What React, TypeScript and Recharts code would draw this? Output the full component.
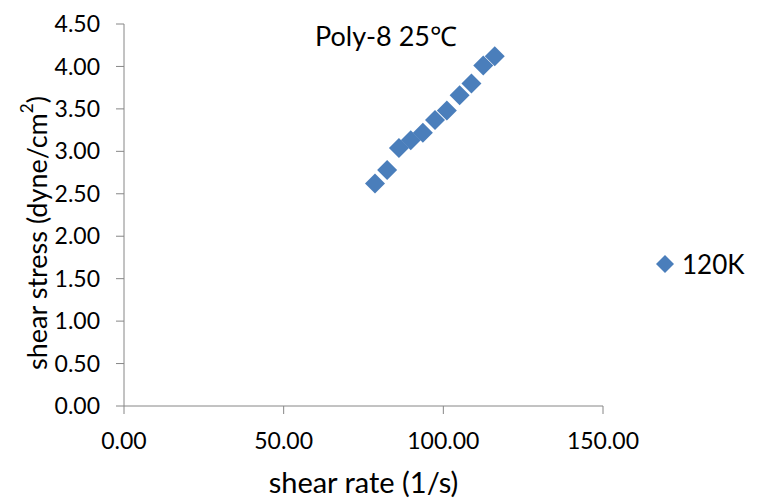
import { ScatterChart, Scatter, XAxis, YAxis, Legend, Label } from 'recharts';

const shearRate = [78.6, 82.4, 86.1, 89.8, 93.6, 97.4, 101.1, 105.1, 108.8, 112.5, 116.1];
const shearStress = [2.62, 2.78, 3.04, 3.13, 3.22, 3.37, 3.48, 3.66, 3.8, 4.01, 4.12];
const xTicks = [0, 50, 100, 150];
const yTicks = [0, 0.5, 1, 1.5, 2, 2.5, 3, 3.5, 4, 4.5];
const seriesName = '120K';
const title = 'Poly-8 25℃';

const data = shearRate.map((x, i) => ({ x, y: shearStress[i] }));

const FONT = 'Lato, "Open Sans", sans-serif';
const AXIS = '#868686';
const BLUE = '#4a7ebb';

// filled diamond, same as Excel's marker
const Diamond = (props: any) => {
  const { cx, cy } = props;
  const r = 10;
  return <polygon points={`${cx},${cy - r} ${cx + r},${cy} ${cx},${cy + r} ${cx - r},${cy}`} fill={BLUE} />;
};

const LegendBox = () => (
  <div style={{ display: 'flex', alignItems: 'center', fontFamily: FONT, fontSize: 26, color: '#000' }}>
    <svg width={20} height={20} style={{ marginRight: 7 }}>
      <polygon points="10,1 19,10 10,19 1,10" fill={BLUE} />
    </svg>
    {seriesName}
  </div>
);

const YLabel = (props: any) => {
  const vb = props.viewBox || { y: 24, height: 381 };
  const cy = vb.y + vb.height / 2 + 18;
  return (
    <text transform={`translate(36,${cy}) rotate(-90)`} textAnchor="middle" dominantBaseline="central" fill="#000" fontSize={27} fontFamily={FONT}>
      shear stress (dyne/cm<tspan fontSize={17} dy={-10}>2</tspan><tspan dy={10}>)</tspan>
    </text>
  );
};

export default function App() {
  return (
    <div style={{ position: 'absolute', left: 0, top: 0, width: 780, height: 499, background: '#fff', fontFamily: FONT }}>
      <div style={{ position: 'absolute', left: 0, width: 772, top: 19, textAlign: 'center', fontSize: 27, lineHeight: '34px', color: '#000' }}>
        {title}
      </div>
      <ScatterChart width={780} height={499} margin={{ top: 24, right: 177, left: 0, bottom: 0 }}>
        <XAxis
          type="number"
          dataKey="x"
          domain={[0, 150]}
          ticks={xTicks}
          tickFormatter={(v: number) => v.toFixed(2)}
          stroke={AXIS}
          tickSize={8}
          tickMargin={19}
          height={93}
          tick={{ fill: '#000', fontSize: 23, fontFamily: FONT }}
        >
          <Label value="shear rate (1/s)" position="insideBottom" offset={6} style={{ fill: '#000', fontSize: 29, fontFamily: FONT }} />
        </XAxis>
        <YAxis
          type="number"
          dataKey="y"
          domain={[0, 4.5]}
          ticks={yTicks}
          tickFormatter={(v: number) => v.toFixed(2)}
          stroke={AXIS}
          tickSize={8}
          tickMargin={16}
          width={124}
          tick={{ fill: '#000', fontSize: 23, fontFamily: FONT }}
        >
          <Label content={YLabel} />
        </YAxis>
        <Legend
          layout="horizontal"
          verticalAlign="middle"
          align="center"
          content={LegendBox}
          wrapperStyle={{ left: 655, top: 248, width: 120 }}
        />
        <Scatter name={seriesName} data={data} fill={BLUE} shape={Diamond} legendType="diamond" isAnimationActive={false} />
      </ScatterChart>
    </div>
  );
}
